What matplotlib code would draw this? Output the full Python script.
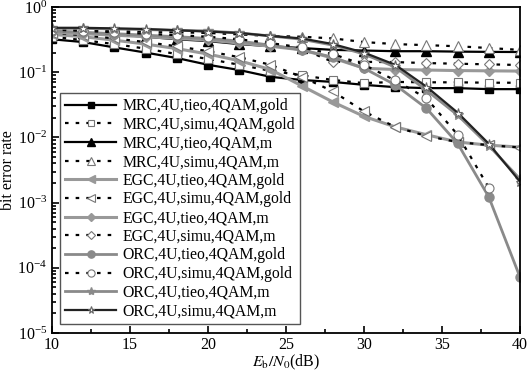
import numpy as np
import matplotlib
matplotlib.use("Agg")
import matplotlib.pyplot as plt
from matplotlib.ticker import LogLocator, MultipleLocator, NullFormatter

plt.rcParams['font.family'] = ['Liberation Serif', 'DejaVu Serif']
plt.rcParams['mathtext.fontset'] = 'stix'

snr = [10, 12, 14, 16, 18, 20, 22, 24, 26, 28, 30, 32, 34, 36, 38, 40]

mrc_tieo_gold = [0.32, 0.29, 0.24, 0.20, 0.165, 0.13, 0.108, 0.085, 0.076, 0.071, 0.064, 0.059, 0.057, 0.057, 0.055, 0.055]
mrc_simu_gold = [0.35, 0.31, 0.27, 0.23, 0.19, 0.16, 0.13, 0.105, 0.09, 0.076, 0.068, 0.071, 0.070, 0.070, 0.069, 0.069]
mrc_tieo_m = [0.42, 0.40, 0.38, 0.35, 0.32, 0.30, 0.27, 0.25, 0.235, 0.22, 0.215, 0.21, 0.21, 0.207, 0.205, 0.204]
mrc_simu_m = [0.45, 0.44, 0.43, 0.42, 0.41, 0.40, 0.38, 0.36, 0.35, 0.33, 0.29, 0.27, 0.26, 0.25, 0.235, 0.22]
egc_tieo_gold = [0.38, 0.35, 0.31, 0.27, 0.23, 0.19, 0.15, 0.11, 0.062, 0.035, 0.021, 0.0145, 0.011, 0.0085, 0.0076, 0.0071]
egc_simu_gold = [0.40, 0.37, 0.33, 0.29, 0.25, 0.21, 0.17, 0.13, 0.085, 0.051, 0.025, 0.0145, 0.0105, 0.0085, 0.0076, 0.0070]
egc_tieo_m = [0.41, 0.39, 0.37, 0.35, 0.33, 0.31, 0.28, 0.25, 0.22, 0.165, 0.115, 0.11, 0.108, 0.106, 0.105, 0.104]
egc_simu_m = [0.43, 0.41, 0.39, 0.37, 0.35, 0.33, 0.30, 0.27, 0.23, 0.144, 0.144, 0.143, 0.138, 0.135, 0.132, 0.129]
orc_tieo_gold = [0.43, 0.41, 0.39, 0.37, 0.35, 0.33, 0.30, 0.26, 0.22, 0.17, 0.115, 0.064, 0.028, 0.0081, 0.00122, 7.2e-5]
orc_simu_gold = [0.45, 0.43, 0.41, 0.39, 0.37, 0.35, 0.32, 0.28, 0.24, 0.19, 0.13, 0.075, 0.04, 0.011, 0.0017, np.nan]
orc_tieo_m = [0.47, 0.47, 0.46, 0.45, 0.44, 0.43, 0.40, 0.36, 0.32, 0.26, 0.19, 0.12, 0.053, 0.022, 0.0075, 0.0023]
orc_simu_m = [0.48, 0.48, 0.47, 0.46, 0.44, 0.42, 0.40, 0.36, 0.33, 0.27, 0.20, 0.13, 0.06, 0.024, 0.008, 0.0021]

labels = ["MRC,4U,tieo,4QAM,gold", "MRC,4U,simu,4QAM,gold",
          "MRC,4U,tieo,4QAM,m", "MRC,4U,simu,4QAM,m",
          "EGC,4U,tieo,4QAM,gold", "EGC,4U,simu,4QAM,gold",
          "EGC,4U,tieo,4QAM,m", "EGC,4U,simu,4QAM,m",
          "ORC,4U,tieo,4QAM,gold", "ORC,4U,simu,4QAM,gold",
          "ORC,4U,tieo,4QAM,m", "ORC,4U,simu,4QAM,m"]

series = [mrc_tieo_gold, mrc_simu_gold, mrc_tieo_m, mrc_simu_m,
          egc_tieo_gold, egc_simu_gold, egc_tieo_m, egc_simu_m,
          orc_tieo_gold, orc_simu_gold, orc_tieo_m, orc_simu_m]

dot = (0, (1.6, 3.2))
gray = '#999999'
dgray = '#8a8a8a'
styles = [
    dict(color='black', ls='-', lw=1.6, marker='s', mfc='black', mec='black', ms=5.5),
    dict(color='black', ls=dot, lw=1.6, marker='s', mfc='white', mec='#777777', ms=5.5, mew=0.8),
    dict(color='black', ls='-', lw=1.6, marker='^', mfc='black', mec='black', ms=6.5),
    dict(color='black', ls=dot, lw=1.6, marker='^', mfc='white', mec='#777777', ms=6.5, mew=0.8),
    dict(color=gray, ls='-', lw=2.2, marker='<', mfc=gray, mec=gray, ms=6.5),
    dict(color='black', ls=dot, lw=1.6, marker='<', mfc='white', mec='#777777', ms=6.5, mew=0.8),
    dict(color=gray, ls='-', lw=2.2, marker='D', mfc=gray, mec=gray, ms=5),
    dict(color='black', ls=dot, lw=1.6, marker='D', mfc='white', mec='#777777', ms=5, mew=0.8),
    dict(color=dgray, ls='-', lw=2.0, marker='o', mfc=dgray, mec=dgray, ms=6.5),
    dict(color='black', ls=dot, lw=1.6, marker='o', mfc='white', mec='#777777', ms=6.5, mew=0.8),
    dict(color=dgray, ls='-', lw=2.0, marker='*', mfc=dgray, mec=dgray, ms=7.5),
    dict(color='#222222', ls='-', lw=1.6, marker='*', mfc='white', mec='#666666', ms=6.5, mew=0.8),
]

fig = plt.figure(figsize=(5.27, 3.73), dpi=100)
ax = fig.add_axes([0.0987, 0.1072, 0.888, 0.874])

for y, lab, st in zip(series, labels, styles):
    ax.semilogy(snr, y, label=lab, **st)

ax.set_xlim(10, 40)
ax.set_ylim(1e-5, 1)
ax.xaxis.set_major_locator(MultipleLocator(5))
ax.xaxis.set_minor_locator(MultipleLocator(2.5))
ax.yaxis.set_major_locator(LogLocator(base=10, numticks=10))
ax.yaxis.set_minor_locator(LogLocator(base=10, subs=np.arange(2, 10), numticks=20))
ax.yaxis.set_minor_formatter(NullFormatter())
ax.tick_params(which='both', direction='in', top=False, right=False, labelsize=11.5, width=1.2)
ax.tick_params(axis='x', pad=3)
ax.tick_params(which='major', length=5)
ax.tick_params(which='minor', length=3)
for s in ax.spines.values():
    s.set_linewidth(1.3)

ax.set_xlabel(r'$E_\mathrm{b}/N_0$(dB)', fontsize=11.5, labelpad=0)
ax.set_ylabel('bit error rate', fontsize=11.5, labelpad=1)

leg = ax.legend(loc='lower left', bbox_to_anchor=(0.017, 0.027), fontsize=11.3,
                frameon=True, fancybox=False, edgecolor='#555555', framealpha=1,
                handlelength=3.3, handletextpad=0.4, labelspacing=0.17,
                borderpad=0.3, borderaxespad=0, markerscale=0.8)
leg.get_frame().set_linewidth(1.0)

fig.savefig('out.png', dpi=100)
